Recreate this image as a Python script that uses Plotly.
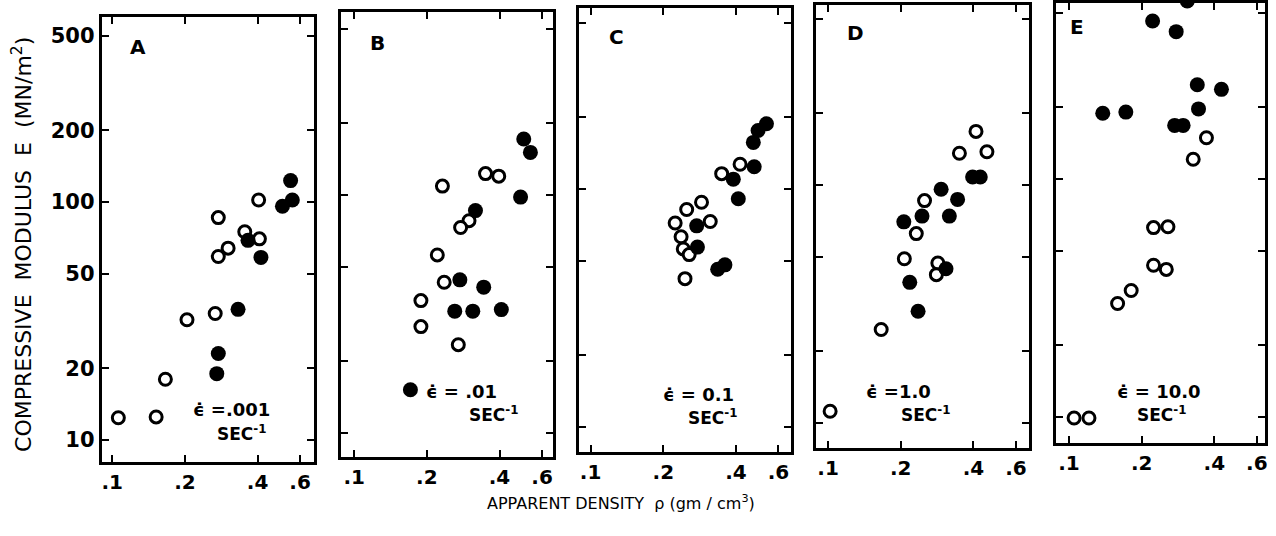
import plotly.graph_objects as go

W, H = 1276, 536

# ---------------- data ----------------
panel_letters = ["A", "B", "C", "D", "E"]
rate_labels = ["ϵ̇ =.001", "ϵ̇ = .01", "ϵ̇ = 0.1", "ϵ̇ =1.0", "ϵ̇ = 10.0"]

x_ticks = [0.1, 0.2, 0.4, 0.6]
x_tick_text = [".1", ".2", ".4", ".6"]
y_ticks = [10, 20, 50, 100, 200, 500]
y_tick_text = ["10", "20", "50", "100", "200", "500"]

# Panel A  (strain rate .001 /s)
a_open_x = [0.404, 0.275, 0.354, 0.407, 0.302, 0.275, 0.204, 0.267, 0.166, 0.106, 0.152]
a_open_y = [102, 86, 75, 70, 64, 59, 32, 34, 18, 12.4, 12.5]
a_fill_x = [0.548, 0.557, 0.507, 0.365, 0.413, 0.332, 0.275, 0.271]
a_fill_y = [123, 102, 96, 69, 58.5, 35.4, 23.1, 19]

# Panel B  (.01 /s)
b_open_x = [0.350, 0.397, 0.232, 0.299, 0.276, 0.221, 0.236, 0.189, 0.189, 0.270]
b_open_y = [123, 120, 109, 78, 73, 56, 43, 36, 28, 23.5]
b_fill_x = [0.504, 0.537, 0.489, 0.318, 0.274, 0.344, 0.261, 0.310, 0.407, 0.171]
b_fill_y = [172, 151, 98, 86, 44, 41, 32.5, 32.5, 33, 15.2]

# Panel C  (0.1 /s)
c_open_x = [0.416, 0.349, 0.288, 0.250, 0.313, 0.224, 0.237, 0.242, 0.256, 0.246]
c_open_y = [127, 116, 88, 82, 73, 72, 63, 56, 53, 42]
c_fill_x = [0.535, 0.494, 0.472, 0.476, 0.390, 0.409, 0.275, 0.277, 0.360, 0.336]
c_fill_y = [188, 176, 157, 124, 110, 91, 70, 57, 48, 46]

# Panel D  (1.0 /s)
d_open_x = [0.410, 0.350, 0.455, 0.251, 0.232, 0.207, 0.285, 0.281, 0.166, 0.102]
d_open_y = [168, 136, 138, 86, 62.5, 49, 47, 42, 24.7, 11.2]
d_fill_x = [0.397, 0.427, 0.294, 0.344, 0.245, 0.206, 0.318, 0.308, 0.218, 0.236]
d_fill_y = [108, 108, 96, 87, 74, 70, 74, 44.5, 39, 29.5]

# Panel E  (10.0 /s)
e_open_x = [0.371, 0.327, 0.224, 0.257, 0.224, 0.253, 0.181, 0.159, 0.105, 0.121]
e_open_y = [149, 121, 62.5, 63, 43.4, 41.7, 34, 30, 9.9, 9.9]
e_fill_x = [0.309, 0.222, 0.278, 0.340, 0.428, 0.344, 0.138, 0.172, 0.274, 0.297]
e_fill_y = [560, 461, 416, 249, 238, 197, 189, 191, 168, 168]

open_x = [a_open_x, b_open_x, c_open_x, d_open_x, e_open_x]
open_y = [a_open_y, b_open_y, c_open_y, d_open_y, e_open_y]
fill_x = [a_fill_x, b_fill_x, c_fill_x, d_fill_x, e_fill_x]
fill_y = [a_fill_y, b_fill_y, c_fill_y, d_fill_y, e_fill_y]

# ---------------- layout geometry (pixels; the scanned figure is slightly tilted) ----------------
panel_left = [102, 342, 580, 818, 1058]
panel_right = [315, 554, 793, 1031, 1268]
panel_top = [17, 12, 8, 5, 3]
panel_bottom = [462, 457, 452, 448, 443]
tick_x01 = [112.5, 355, 592, 830, 1071.5]   # pixel of the .1 tick in each panel
tick_y10 = [440, 433, 427, 423, 417]        # pixel of the 10 tick in each panel
DEC_X = 242.0   # pixels per decade, x
DEC_Y = 238.0   # pixels per decade, y

FONT = "DejaVu Sans"


def px(x):
    return x / W


def py(y):
    return 1 - y / H


fig = go.Figure()
layout = {}
for i in range(5):
    sfx = "" if i == 0 else str(i + 1)
    xa, ya = "x" + sfx, "y" + sfx
    fig.add_trace(go.Scatter(
        x=open_x[i], y=open_y[i], mode="markers", xaxis=xa, yaxis=ya,
        marker=dict(symbol="circle", size=12, color="white",
                    line=dict(color="black", width=3)),
        showlegend=False, hoverinfo="skip"))
    fig.add_trace(go.Scatter(
        x=fill_x[i], y=fill_y[i], mode="markers", xaxis=xa, yaxis=ya,
        marker=dict(symbol="circle", size=15, color="black",
                    line=dict(color="black", width=0)),
        showlegend=False, hoverinfo="skip"))
    xr0 = -1 - (tick_x01[i] - panel_left[i]) / DEC_X
    xr1 = -1 + (panel_right[i] - tick_x01[i]) / DEC_X
    yr0 = 1 - (panel_bottom[i] - tick_y10[i]) / DEC_Y
    yr1 = 1 + (tick_y10[i] - panel_top[i]) / DEC_Y
    common = dict(showline=True, linewidth=3, linecolor="black", mirror="ticks",
                  ticks="inside", ticklen=7, tickwidth=2, tickcolor="black",
                  showgrid=False, zeroline=False, type="log")
    layout["xaxis" + sfx] = dict(
        common, domain=[px(panel_left[i]), px(panel_right[i])], range=[xr0, xr1],
        anchor=ya, tickvals=x_ticks, ticktext=x_tick_text,
        tickfont=dict(family=FONT, size=20, color="black", weight="bold"))
    layout["yaxis" + sfx] = dict(
        common, domain=[py(panel_bottom[i]), py(panel_top[i])], range=[yr0, yr1],
        anchor=xa, tickvals=y_ticks, ticktext=y_tick_text,
        showticklabels=(i == 0),
        tickfont=dict(family=FONT, size=21, color="black", weight="bold"))

fig.update_layout(**layout)

annotations = []
letter_pos = [(138, 47), (378, 43), (618, 37), (858, 33), (1080, 27)]
rate_pos = [(232, 409), (463, 391), (700, 394), (901, 391), (1162, 391)]
sec_pos = [(243, 433), (495, 414), (715, 417), (928, 414), (1165, 414)]


def ann(text, x, y, size, weight="normal", angle=0):
    return dict(text=text, x=px(x), y=py(y), xref="paper", yref="paper",
                xanchor="center", yanchor="middle", showarrow=False, textangle=angle,
                font=dict(family=FONT, size=size, color="black", weight=weight))


for i in range(5):
    annotations.append(ann(panel_letters[i], letter_pos[i][0], letter_pos[i][1], 20, "bold"))
    annotations.append(ann(rate_labels[i], rate_pos[i][0], rate_pos[i][1], 18, "bold"))
    annotations.append(ann("SEC<sup>-1</sup>", sec_pos[i][0], sec_pos[i][1], 17, "bold"))

annotations.append(ann("APPARENT DENSITY  ρ (gm / cm<sup>3</sup>)", 622, 502, 16))
annotations.append(ann("COMPRESSIVE  MODULUS  E  (MN/m<sup>2</sup>)", 22, 244, 22, angle=-90))

fig.update_layout(width=W, height=H, margin=dict(l=0, r=0, t=0, b=0),
                  paper_bgcolor="white", plot_bgcolor="white",
                  annotations=annotations, font=dict(family=FONT, color="black"))

fig.write_html("out.html", config={"displayModeBar": False},
               post_script="document.body.style.margin='0';document.body.style.overflow='hidden';")
